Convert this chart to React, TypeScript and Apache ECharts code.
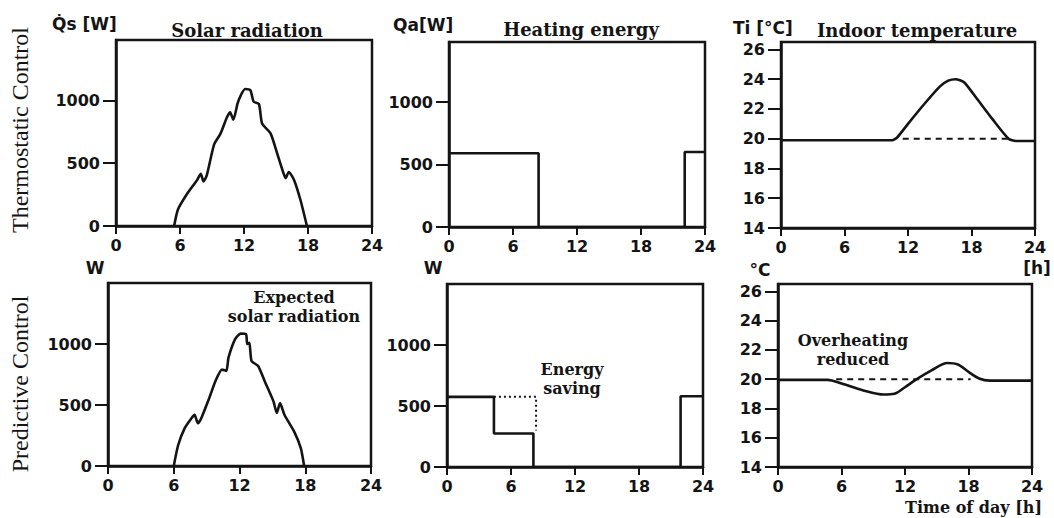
import React, { useEffect, useRef } from 'react';
import * as echarts from 'echarts';

// ---------- data ----------
const hourTicks = [0, 6, 12, 18, 24];
const powerTicks = [0, 500, 1000];
const tempTicks = [14, 16, 18, 20, 22, 24, 26];

// Thermostatic control: solar radiation [W]
const solarHoursT = [5.45, 5.8, 6.7, 7.6, 7.95, 8.2, 8.5, 9.2, 9.8, 10.4, 10.7, 11.0, 11.4, 11.7, 12.1, 12.6, 12.9, 13.4, 13.7, 14.5, 15.1, 15.7, 15.9, 16.2, 16.7, 17.3, 17.9];
const solarValuesT = [0, 130, 260, 365, 415, 355, 400, 650, 735, 865, 905, 845, 975, 1040, 1090, 1080, 990, 970, 815, 735, 580, 420, 380, 430, 365, 205, 0];

// Predictive control: expected solar radiation [W]
const solarHoursP = [6.0, 6.4, 7.0, 7.6, 7.9, 8.2, 8.5, 9.25, 9.8, 10.4, 10.8, 11.0, 11.6, 12.1, 12.6, 12.7, 12.9, 13.1, 13.7, 14.3, 15.1, 15.4, 15.7, 16.1, 17.0, 17.6, 17.9];
const solarValuesP = [0, 170, 310, 390, 420, 350, 390, 560, 695, 790, 780, 890, 1040, 1085, 1080, 1000, 1010, 860, 820, 695, 530, 435, 515, 420, 280, 145, 0];

// Heating energy [W] (step values)
const heatHoursT = [0, 8.4, 22.1, 24];
const heatValuesT = [590, 0, 600, 600];
const heatHoursP = [0, 4.4, 8.1, 21.9, 24];
const heatValuesP = [575, 275, 0, 580, 580];
const savingHours = [4.4, 8.35, 8.35];
const savingValues = [575, 575, 300];

// Indoor temperature [°C]
const tempHoursT = [0, 10.5, 11.0, 12.0, 13.5, 15.0, 15.8, 16.5, 17.3, 18.5, 20.0, 21.5, 22.2, 24];
const tempValuesT = [19.9, 19.9, 20.1, 21.0, 22.3, 23.5, 23.9, 24.0, 23.8, 22.7, 21.3, 20.0, 19.85, 19.85];
const setHoursT = [11.5, 21.5];
const setValuesT = [20, 20];

const tempHoursP = [0, 4.7, 6.0, 8.0, 10.0, 11.0, 12.0, 13.0, 14.5, 16.0, 17.0, 18.0, 19.0, 20.0, 24];
const tempValuesP = [19.95, 19.95, 19.7, 19.25, 18.95, 19.0, 19.45, 19.95, 20.6, 21.1, 21.0, 20.5, 20.05, 19.9, 19.9];
const setHoursP = [5.5, 18.2];
const setValuesP = [20, 20];

// ---------- helpers ----------
const INK = '#141414';
const zip = (xs: number[], ys: number[]) => xs.map((x, i) => [x, ys[i]]);

const tickFont = { color: INK, fontFamily: 'DejaVu Sans', fontWeight: 'bold' as const, fontSize: 16 };
const plain = (v: number) => String(v);

function makeX(gridIndex: number) {
  return {
    type: 'value', gridIndex, min: 0, max: 24, interval: 6,
    axisLine: { show: true, onZero: false, lineStyle: { color: INK, width: 2.5 } },
    axisTick: { show: true, inside: false, length: 8, lineStyle: { color: INK, width: 2 } },
    axisLabel: { ...tickFont, margin: 11, customValues: hourTicks, formatter: plain },
    splitLine: { show: false },
  };
}
function makeY(gridIndex: number, min: number, max: number, ticks: number[]) {
  return {
    type: 'value', gridIndex, min, max,
    axisLine: { show: true, onZero: false, lineStyle: { color: INK, width: 2.5 } },
    axisTick: { show: true, inside: false, length: 13, lineStyle: { color: INK, width: 2 }, customValues: ticks },
    axisLabel: { ...tickFont, margin: 16, customValues: ticks, formatter: plain },
    splitLine: { show: false },
  };
}
function lineSeries(idx: number, data: number[][], opts: any = {}) {
  return {
    type: 'line', xAxisIndex: idx, yAxisIndex: idx, data,
    symbol: 'none', silent: true,
    lineStyle: { color: INK, width: 2.6, ...(opts.lineStyle || {}) },
    smooth: opts.smooth ?? false,
    step: opts.step ?? false,
  };
}

const gridBox = { show: true, borderColor: INK, borderWidth: 2.5, backgroundColor: 'transparent' };

function txt(x: number, y: number, text: string, font: string, align = 'center', rotation = 0) {
  return {
    type: 'text', x, y, rotation, silent: true,
    style: { text, font, fill: INK, textAlign: align, textVerticalAlign: 'middle' },
  };
}

export default function App() {
  const ref = useRef<HTMLDivElement>(null);
  useEffect(() => {
    if (!ref.current) return;
    const chart = echarts.init(ref.current, null, { renderer: 'svg' });
    const titleFont = 'bold 18px "DejaVu Serif"';
    const noteFont = 'bold 16px "DejaVu Serif"';
    const unitFont = 'bold 17px "DejaVu Sans"';
    const sideFont = '24px "Liberation Serif"';
    chart.setOption({
      animation: false,
      backgroundColor: '#ffffff',
      grid: [
        { left: 116, top: 40, width: 256, height: 186, ...gridBox },
        { left: 449, top: 42, width: 256, height: 185, ...gridBox },
        { left: 781, top: 42, width: 254, height: 186, ...gridBox },
        { left: 108, top: 283, width: 263, height: 183, ...gridBox },
        { left: 447, top: 284, width: 256, height: 183, ...gridBox },
        { left: 778, top: 284, width: 254, height: 183, ...gridBox },
      ],
      xAxis: [0, 1, 2, 3, 4, 5].map((i) => makeX(i)),
      yAxis: [
        makeY(0, 0, 1480, powerTicks),
        makeY(1, 0, 1480, powerTicks),
        makeY(2, 14, 26.5, tempTicks),
        makeY(3, 0, 1500, powerTicks),
        makeY(4, 0, 1500, powerTicks),
        makeY(5, 14, 26.5, tempTicks),
      ],
      series: [
        lineSeries(0, zip(solarHoursT, solarValuesT), { smooth: 0.2 }),
        lineSeries(1, zip(heatHoursT, heatValuesT), { step: 'end' }),
        lineSeries(2, zip(tempHoursT, tempValuesT), { smooth: 0.2 }),
        lineSeries(2, zip(setHoursT, setValuesT), { lineStyle: { type: [6, 5], width: 2 } }),
        lineSeries(3, zip(solarHoursP, solarValuesP), { smooth: 0.2 }),
        lineSeries(4, zip(heatHoursP, heatValuesP), { step: 'end' }),
        lineSeries(4, zip(savingHours, savingValues), { lineStyle: { type: [2, 3], width: 2 } }),
        lineSeries(5, zip(tempHoursP, tempValuesP), { smooth: 0.3 }),
        lineSeries(5, zip(setHoursP, setValuesP), { lineStyle: { type: [6, 5], width: 2 } }),
      ],
      graphic: [
        txt(20, 130, 'Thermostatic Control', sideFont, 'center', Math.PI / 2),
        txt(20, 384, 'Predictive Control', sideFont, 'center', Math.PI / 2),
        txt(52, 24, 'Q\u0307s [W]', unitFont, 'left'),
        txt(247, 30, 'Solar radiation', titleFont),
        txt(393, 25, 'Qa[W]', unitFont, 'left'),
        txt(581, 29, 'Heating energy', titleFont),
        txt(733, 28, 'Ti [°C]', unitFont, 'left'),
        txt(917, 30, 'Indoor temperature', titleFont),
        txt(1037, 268, '[h]', unitFont),
        txt(95, 268, 'W', unitFont),
        txt(433, 268, 'W', unitFont),
        txt(760, 270, '°C', unitFont),
        txt(294, 297, 'Expected', noteFont),
        txt(294, 316, 'solar radiation', noteFont),
        txt(572, 369, 'Energy', noteFont),
        txt(572, 388, 'saving', noteFont),
        txt(853, 340, 'Overheating', noteFont),
        txt(853, 359, 'reduced', noteFont),
        txt(1042, 507, 'Time of day [h]', 'bold 16px "DejaVu Serif"', 'right'),
      ],
    });
    return () => chart.dispose();
  }, []);
  return <div ref={ref} style={{ position: 'fixed', left: 0, top: 0, width: 1054, height: 518, background: '#fff' }} />;
}
